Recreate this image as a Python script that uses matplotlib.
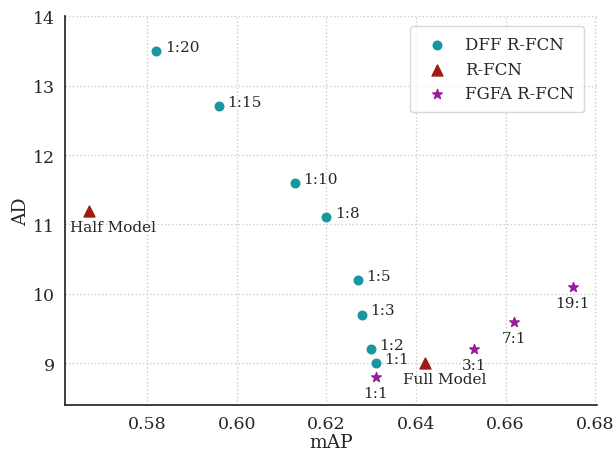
import matplotlib
matplotlib.use("Agg")
import matplotlib.pyplot as plt

plt.rcParams['font.family'] = ['DejaVu Serif']

dff_labels = ["1:20", "1:15", "1:10", "1:8", "1:5", "1:3", "1:2", "1:1"]
dff_map = [0.582, 0.596, 0.613, 0.620, 0.627, 0.628, 0.630, 0.631]
dff_ad = [13.5, 12.7, 11.6, 11.1, 10.2, 9.7, 9.2, 9.0]

rfcn_labels = ["Half Model", "Full Model"]
rfcn_map = [0.567, 0.642]
rfcn_ad = [11.2, 9.0]

fgfa_labels = ["1:1", "3:1", "7:1", "19:1"]
fgfa_map = [0.631, 0.653, 0.662, 0.675]
fgfa_ad = [8.8, 9.2, 9.6, 10.1]

c_dff = "#17979f"
c_rfcn = "#a11a14"
c_fgfa = "#9a1a9e"

fig = plt.figure(figsize=(6.14, 4.52), dpi=100)
ax = fig.add_axes([0.106, 0.102, 0.866, 0.86])

ax.scatter(dff_map, dff_ad, s=38, color=c_dff, marker='o', label="DFF R-FCN", zorder=3)
ax.scatter(rfcn_map, rfcn_ad, s=62, color=c_rfcn, marker='^', label="R-FCN", zorder=3)
ax.scatter(fgfa_map, fgfa_ad, s=52, color=c_fgfa, marker='*', label="FGFA R-FCN", zorder=3)

fs_ann = 11
for x, y, t in zip(dff_map, dff_ad, dff_labels):
    ax.annotate(t, (x, y), xytext=(6, 3), textcoords='offset points',
                fontsize=fs_ann, color='#262626', ha='left', va='center')
for x, y, t in zip(fgfa_map, fgfa_ad, fgfa_labels):
    ax.annotate(t, (x, y), xytext=(0, -6.5), textcoords='offset points',
                fontsize=fs_ann, color='#262626', ha='center', va='top')
ax.annotate(rfcn_labels[0], (rfcn_map[0], rfcn_ad[0]), xytext=(-14, -6.5), textcoords='offset points',
            fontsize=fs_ann, color='#262626', ha='left', va='top')
ax.annotate(rfcn_labels[1], (rfcn_map[1], rfcn_ad[1]), xytext=(-16, -6.5), textcoords='offset points',
            fontsize=fs_ann, color='#262626', ha='left', va='top')

ax.set_ylim(8.4, 14)
ax.margins(x=0.05)
ax.set_xticks([0.58, 0.60, 0.62, 0.64, 0.66, 0.68])
ax.set_xticklabels(["0.58", "0.60", "0.62", "0.64", "0.66", "0.68"])
ax.set_yticks([9, 10, 11, 12, 13, 14])

ax.grid(True, linestyle=':', color='#cccccc', linewidth=1)
ax.set_axisbelow(True)
for s in ['top', 'right']:
    ax.spines[s].set_visible(False)
for s in ['left', 'bottom']:
    ax.spines[s].set_color('#262626')
    ax.spines[s].set_linewidth(1.25)
ax.tick_params(length=0, labelsize=12.5, colors='#262626', pad=7)

ax.set_xlabel("mAP", fontsize=13.5, color='#262626', labelpad=1)
ax.set_ylabel("AD", fontsize=13.5, color='#262626', labelpad=2)

leg = ax.legend(loc='upper right', fontsize=12, frameon=True, borderpad=0.6,
                handletextpad=0.7, labelspacing=0.45, bbox_to_anchor=(0.992, 0.995))
leg.get_frame().set_edgecolor('#d0d0d0')
for t in leg.get_texts():
    t.set_color('#262626')

fig.savefig("out.png", dpi=100)
